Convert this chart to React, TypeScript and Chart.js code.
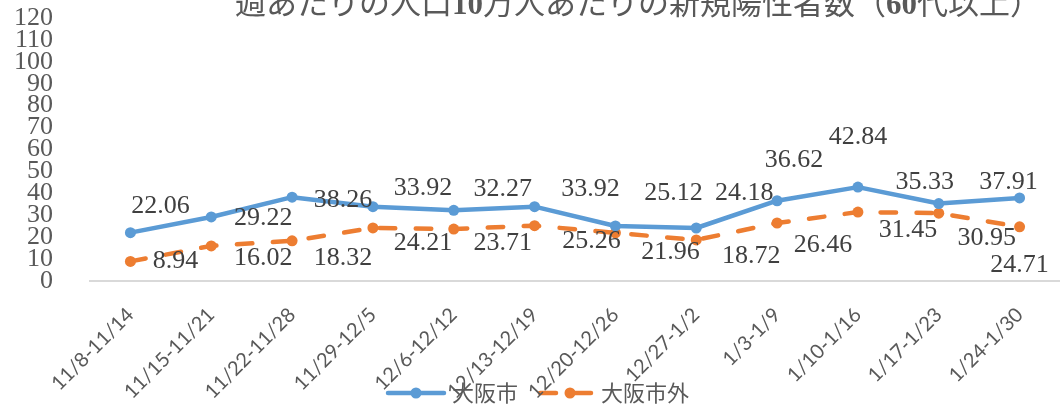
import React, { useEffect, useRef } from "react";
import { Chart, registerables } from "chart.js";

Chart.register(...registerables);

// ---- data ----
const categories = [
  "11/8-11/14",
  "11/15-11/21",
  "11/22-11/28",
  "11/29-12/5",
  "12/6-12/12",
  "12/13-12/19",
  "12/20-12/26",
  "12/27-1/2",
  "1/3-1/9",
  "1/10-1/16",
  "1/17-1/23",
  "1/24-1/30",
];
const osakaCity = [22.06, 29.22, 38.26, 33.92, 32.27, 33.92, 25.12, 24.18, 36.62, 42.84, 35.33, 37.91];
const outsideCity = [8.94, 16.02, 18.32, 24.21, 23.71, 25.26, 21.96, 18.72, 26.46, 31.45, 30.95, 24.71];
const seriesNames = ["大阪市", "大阪市外"];
const yTickMin = 0;
const yTickMax = 120;
const yTickStep = 10;
const titleParts: [string, boolean][] = [
  ["週あたりの人口", false],
  ["10", true],
  ["万人あたりの新規陽性者数（", false],
  ["60", true],
  ["代以上）", false],
];

// ---- styles ----
const BLUE = "#5B9BD5";
const ORANGE = "#ED7D31";
const SERIF = "'Liberation Serif', 'DejaVu Serif', serif";
const SANS = "'Noto Sans CJK JP', 'Noto Sans', sans-serif";
const cityLabelOffsets = [
  [30, -26], [52, 1], [51, 3], [50, -18], [49, -21], [56, -17],
  [58, -33], [48, -35], [17, -41], [0, -50], [-14, -21], [-11, -16],
];
const outsideLabelOffsets = [
  [45, 0], [52, 12], [51, 17], [50, 15], [49, 14], [57, 16],
  [55, 19], [55, 16], [46, 22], [50, 18], [48, 25], [0, 38],
];

function makeLegendIcon(color: string, dashed: boolean): HTMLCanvasElement {
  const c = document.createElement("canvas");
  c.width = 62;
  c.height = 14;
  const ctx = c.getContext("2d")!;
  ctx.strokeStyle = color;
  ctx.fillStyle = color;
  ctx.lineWidth = 4.5;
  ctx.lineCap = "round";
  if (dashed) {
    ctx.beginPath();
    ctx.moveTo(6, 7);
    ctx.lineTo(22, 7);
    ctx.stroke();
    ctx.beginPath();
    ctx.moveTo(35, 7);
    ctx.lineTo(57, 7);
    ctx.stroke();
    ctx.beginPath();
    ctx.arc(36, 7, 5.5, 0, Math.PI * 2);
    ctx.fill();
  } else {
    ctx.beginPath();
    ctx.moveTo(3, 7);
    ctx.lineTo(59, 7);
    ctx.stroke();
    ctx.beginPath();
    ctx.arc(31, 7, 5.5, 0, Math.PI * 2);
    ctx.fill();
  }
  return c;
}

const titlePlugin = {
  id: "partialTitle",
  afterDraw(chart: any) {
    const ctx = chart.ctx as CanvasRenderingContext2D;
    ctx.save();
    ctx.fillStyle = "#595959";
    ctx.textBaseline = "alphabetic";
    ctx.textAlign = "left";
    const fontFor = (serif: boolean) => (serif ? `bold 31px ${SERIF}` : `31px ${SANS}`);
    let total = 0;
    for (const [t, s] of titleParts) {
      ctx.font = fontFor(s);
      total += ctx.measureText(t).width;
    }
    let x = 638 - total / 2;
    for (const [t, s] of titleParts) {
      ctx.font = fontFor(s);
      ctx.fillText(t, x, 14);
      x += ctx.measureText(t).width;
    }
    ctx.restore();
  },
};

const dataLabelPlugin = {
  id: "pointValueLabels",
  afterDatasetsDraw(chart: any) {
    const ctx = chart.ctx as CanvasRenderingContext2D;
    ctx.save();
    ctx.font = `26px ${SERIF}`;
    ctx.fillStyle = "#404040";
    ctx.textAlign = "center";
    ctx.textBaseline = "middle";
    chart.data.datasets.forEach((ds: any, di: number) => {
      const meta = chart.getDatasetMeta(di);
      const offs = di === 0 ? cityLabelOffsets : outsideLabelOffsets;
      meta.data.forEach((el: any, i: number) => {
        const v = ds.data[i] as number;
        const [dx, dy] = offs[i];
        ctx.fillText(v.toFixed(2), el.x + dx, el.y + dy);
      });
    });
    ctx.restore();
  },
};

export default function App() {
  const canvasRef = useRef<HTMLCanvasElement | null>(null);

  useEffect(() => {
    if (!canvasRef.current) return;
    const icons = [makeLegendIcon(BLUE, false), makeLegendIcon(ORANGE, true)];
    const chart = new Chart(canvasRef.current, {
      type: "line",
      data: {
        labels: categories,
        datasets: [
          {
            label: seriesNames[0],
            data: osakaCity,
            borderColor: BLUE,
            backgroundColor: BLUE,
            borderWidth: 4.5,
            borderCapStyle: "round",
            borderJoinStyle: "round",
            pointRadius: 5.5,
            pointBackgroundColor: BLUE,
            pointBorderColor: BLUE,
            pointBorderWidth: 0,
            tension: 0,
          },
          {
            label: seriesNames[1],
            data: outsideCity,
            borderColor: ORANGE,
            backgroundColor: ORANGE,
            borderWidth: 4.5,
            borderDash: [15.5, 20.5],
            borderCapStyle: "round",
            borderJoinStyle: "round",
            pointRadius: 5.5,
            pointBackgroundColor: ORANGE,
            pointBorderColor: ORANGE,
            pointBorderWidth: 0,
            tension: 0,
          },
        ],
      },
      options: {
        animation: false,
        responsive: false,
        maintainAspectRatio: false,
        layout: { autoPadding: false, padding: { top: 18, left: 20, right: 0, bottom: -3 } },
        plugins: {
          title: { display: false },
          tooltip: { enabled: false },
          legend: {
            display: true,
            position: "bottom",
            labels: {
              usePointStyle: true,
              pointStyleWidth: 50,
              padding: 22,
              color: "#595959",
              font: { family: SANS, size: 22 },
              generateLabels: (ch: any) =>
                ch.data.datasets.map((ds: any, i: number) => ({
                  text: ds.label,
                  pointStyle: icons[i],
                  fillStyle: ds.borderColor,
                  strokeStyle: ds.borderColor,
                  lineWidth: 0,
                  hidden: false,
                  datasetIndex: i,
                  fontColor: "#595959",
                })),
            },
          },
        },
        scales: {
          x: {
            type: "category",
            offset: true,
            grid: { display: false, drawTicks: false },
            border: { display: true, color: "#D9D9D9", width: 2 },
            ticks: {
              autoSkip: false,
              minRotation: 45,
              maxRotation: 45,
              padding: 22,
              color: "#595959",
              font: { family: "Lato, 'Open Sans', sans-serif", size: 20 },
            },
            afterFit: (scale: any) => {
              scale.height = 79;
              scale._computeLabelArea = () => ({
                top: scale.top,
                left: 0,
                bottom: scale.chart.height,
                right: scale.chart.width,
              });
            },
          },
          y: {
            min: yTickMin,
            max: yTickMax,
            grid: { display: false, drawTicks: false },
            border: { display: false },
            ticks: {
              stepSize: yTickStep,
              autoSkip: false,
              padding: 37,
              color: "#595959",
              font: { family: SERIF, size: 26 },
            },
            afterFit: (scale: any) => {
              scale.width = 70;
              scale.paddingTop = 8;
              scale.paddingBottom = 8;
              scale._computeLabelArea = () => ({
                top: 0,
                left: 0,
                bottom: scale.chart.height,
                right: scale.right,
              });
            },
          },
        },
      },
      plugins: [dataLabelPlugin, titlePlugin],
    } as any);
    return () => chart.destroy();
  }, []);

  return (
    <div style={{ position: "fixed", left: 0, top: 0, width: 1060, height: 411, background: "#fff" }}>
      <canvas ref={canvasRef} width={1060} height={411} style={{ display: "block" }} />
    </div>
  );
}
